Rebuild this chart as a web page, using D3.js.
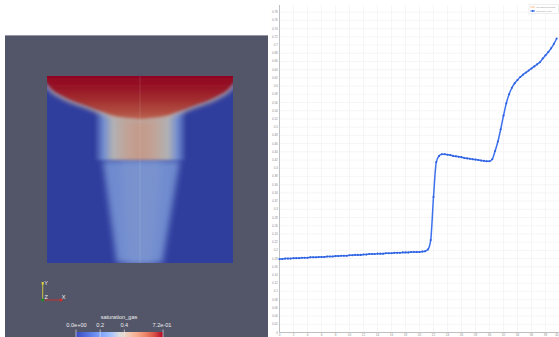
<!DOCTYPE html>
<html>
<head>
<meta charset="utf-8">
<script src="https://cdn.jsdelivr.net/npm/d3@7"></script>
<style>
  html, body { margin: 0; padding: 0; background: #fff; overflow: hidden; }
  svg { display: block; font-family: "Liberation Sans", Arial, sans-serif; }
</style>
</head>
<body>
<svg id="chart" width="559" height="337"></svg>
<script>
// ---- plot over line: saturation_gas along arc length ----
const arcLength = d3.range(0, 39.75, 0.4);
const saturationGas = [
  0.179, 0.179, 0.180, 0.180, 0.180, 0.181, 0.181, 0.181, 0.182, 0.182,
  0.182, 0.183, 0.183, 0.183, 0.184, 0.184, 0.184, 0.185, 0.185, 0.185,
  0.186, 0.186, 0.187, 0.187, 0.187, 0.188, 0.188, 0.189, 0.189, 0.189,
  0.190, 0.190, 0.191, 0.191, 0.191, 0.192, 0.192, 0.192, 0.193, 0.193,
  0.193, 0.194, 0.194, 0.194, 0.195, 0.195, 0.195, 0.196, 0.196, 0.196,
  0.196, 0.197, 0.198, 0.202, 0.225, 0.330, 0.415, 0.430, 0.434, 0.434,
  0.433, 0.432, 0.430, 0.429, 0.428, 0.427, 0.425, 0.424, 0.423, 0.422,
  0.421, 0.420, 0.419, 0.418, 0.417, 0.417, 0.422, 0.442, 0.465, 0.495,
  0.528, 0.558, 0.580, 0.596, 0.607, 0.615, 0.622, 0.628, 0.633, 0.638,
  0.643, 0.648, 0.653, 0.658, 0.667, 0.675, 0.683, 0.692, 0.703, 0.716
];
const xTicks = [0,2,4,6,8,10,12,14,16,18,20,22,24,26,28,30,32,34,36,38,40];
const yTicks = d3.range(0, 40).map(i => +(i * 0.02).toFixed(2));
const seriesNames = ["vtkValidPointMask", "saturation_gas"];

// ---- render view: saturation field (domain units 0..1) ----
const bowlFront = [
  [0, 0.04], [0.03, 0.075], [0.07, 0.10], [0.14, 0.134], [0.215, 0.16],
  [0.285, 0.187], [0.365, 0.214], [0.445, 0.225], [0.5, 0.23], [0.555, 0.225],
  [0.635, 0.214], [0.715, 0.187], [0.785, 0.16], [0.86, 0.134], [0.93, 0.10],
  [0.97, 0.075], [1, 0.04]
];
const bowlProfile = [[0, 0.72], [0.06, 0.70], [0.13, 0.67], [0.2, 0.62], [0.235, 0.58]];
const upperColumn = { x0: 0.255, x1: 0.75, d0: 0.16, d1: 0.45 };
const upperProfile = [[0, 0.0], [0.1, 0.24], [0.2, 0.36], [0.35, 0.43], [0.5, 0.46],
  [0.65, 0.43], [0.8, 0.36], [0.9, 0.24], [1, 0.0]];
const lowerColumn = [[0.30, 0.45], [0.715, 0.45], [0.62, 1], [0.375, 1]];
const lowerCore = [[0.40, 0.46], [0.62, 0.46], [0.57, 1], [0.43, 1]];
const lowerSat = 0.235, coreSat = 0.26;

const satMax = 0.72;
const barTicks = [0, 0.2, 0.4, 0.72];
const barLabels = ["0.0e+00", "0.2", "0.4", "7.2e-01"];
const coolWarm = ["#3b4cc0", "#4f69d9", "#6788ee", "#84a7fc", "#a3c2fe", "#dcdddd",
  "#f2cbb7", "#f7ac8e", "#ee8468", "#d65244", "#b40426"];

const svg = d3.select("#chart");
const defs = svg.append("defs");
const cmap = d3.scaleLinear().domain(d3.range(coolWarm.length).map(i => i / (coolWarm.length - 1) * satMax))
  .range(coolWarm).interpolate(d3.interpolateRgb).clamp(true);
const lit = v => { const c = d3.rgb(cmap(v)); return d3.rgb(c.r * 0.8, c.g * 0.8, c.b * 0.82).formatHex(); };

// view background
svg.append("rect").attr("x", 5).attr("y", 35).attr("width", 263).attr("height", 302).attr("fill", "#535669");
svg.append("line").attr("x1", 5).attr("x2", 268).attr("y1", 35.5).attr("y2", 35.5).attr("stroke", "#9497a8");

const fx = d3.scaleLinear([0, 1], [47, 233]);
const fy = d3.scaleLinear([0, 1], [76, 263]);

defs.append("clipPath").attr("id", "dom").append("rect")
  .attr("x", fx(0)).attr("y", fy(0)).attr("width", fx(1) - fx(0)).attr("height", fy(1) - fy(0));
const blur = (id, s) => defs.append("filter").attr("id", id)
  .attr("x", "-30%").attr("y", "-30%").attr("width", "160%").attr("height", "160%")
  .append("feGaussianBlur").attr("stdDeviation", s);
blur("b1", 1.4); blur("b2", 2.6); blur("b3", 3); blur("b4", 4);

const field = svg.append("g").attr("clip-path", "url(#dom)");
field.append("rect").attr("x", fx(0)).attr("y", fy(0)).attr("width", fx(1) - fx(0))
  .attr("height", fy(1) - fy(0)).attr("fill", lit(0));

const poly = d3.line().x(d => fx(d[0])).y(d => fy(d[1]));
field.append("path").attr("d", poly(lowerColumn) + "Z").attr("fill", lit(lowerSat)).attr("filter", "url(#b3)");
field.append("path").attr("d", poly(lowerCore) + "Z").attr("fill", lit(coreSat)).attr("filter", "url(#b4)");

const ug = defs.append("linearGradient").attr("id", "upper");
ug.selectAll("stop").data(upperProfile).join("stop")
  .attr("offset", d => d[0]).attr("stop-color", d => lit(d[1]));
field.append("rect").attr("x", fx(upperColumn.x0)).attr("y", fy(upperColumn.d0))
  .attr("width", fx(upperColumn.x1) - fx(upperColumn.x0)).attr("height", fy(upperColumn.d1) - fy(upperColumn.d0))
  .attr("fill", "url(#upper)").attr("filter", "url(#b1)");

const bg = defs.append("linearGradient").attr("id", "bowl").attr("gradientUnits", "userSpaceOnUse")
  .attr("x1", 0).attr("x2", 0).attr("y1", fy(0)).attr("y2", fy(0.235));
bg.selectAll("stop").data(bowlProfile).join("stop")
  .attr("offset", d => d[0] / 0.235).attr("stop-color", d => lit(d[1]));
const front = d3.line().x(d => fx(d[0])).y(d => fy(d[1])).curve(d3.curveCatmullRom);
field.append("path").attr("d", front(bowlFront)).attr("fill", "none")
  .attr("stroke", lit(0.4)).attr("stroke-width", 5).attr("filter", "url(#b2)");
field.append("path").attr("d", "M" + fx(-0.05) + "," + fy(-0.05) + "L" + fx(0) + "," + fy(bowlFront[0][1]) +
    front(bowlFront).replace(/^M/, "L") + "L" + fx(1.05) + "," + fy(-0.05) + "Z")
  .attr("fill", "url(#bowl)").attr("filter", "url(#b1)");
field.append("line").attr("x1", fx(0.5)).attr("x2", fx(0.5)).attr("y1", fy(0)).attr("y2", fy(1))
  .attr("stroke", "#e8e8f0").attr("stroke-opacity", 0.2).attr("stroke-width", 0.7);

// orientation triad
const tri = svg.append("g").attr("font-size", 5.5).attr("fill", "#f0f0f0");
tri.append("line").attr("x1", 42.7).attr("x2", 42.7).attr("y1", 300).attr("y2", 283).attr("stroke", "#d8cf3a").attr("stroke-width", 0.9);
tri.append("rect").attr("x", 41.7).attr("y", 282).attr("width", 2).attr("height", 2.5).attr("fill", "#e2d838");
tri.append("line").attr("x1", 42.7).attr("x2", 60.5).attr("y1", 300).attr("y2", 300).attr("stroke", "#c8302a").attr("stroke-width", 0.9);
tri.append("circle").attr("cx", 61).attr("cy", 300).attr("r", 1.5).attr("fill", "#d82a22");
tri.append("circle").attr("cx", 42.7).attr("cy", 300).attr("r", 1.6).attr("fill", "#1f8a2a");
tri.append("text").attr("x", 44.2).attr("y", 284.5).text("Y");
tri.append("text").attr("x", 44.5).attr("y", 299).text("Z");
tri.append("text").attr("x", 61.8).attr("y", 299).text("X");

// scalar bar
const bx = d3.scaleLinear([0, satMax], [76, 163]);
const barG = defs.append("linearGradient").attr("id", "bar").attr("gradientUnits", "userSpaceOnUse")
  .attr("x1", bx(0)).attr("x2", bx(satMax)).attr("y1", 0).attr("y2", 0);
barG.selectAll("stop").data(coolWarm).join("stop")
  .attr("offset", (d, i) => i / (coolWarm.length - 1)).attr("stop-color", d => d);
svg.append("rect").attr("x", bx(0)).attr("y", 332).attr("width", bx(satMax) - bx(0)).attr("height", 6).attr("fill", "url(#bar)");
svg.append("g").selectAll("line").data(barTicks).join("line")
  .attr("x1", d => bx(d)).attr("x2", d => bx(d)).attr("y1", 329.5).attr("y2", 337)
  .attr("stroke", "#f0f0f0").attr("stroke-width", 0.6);
svg.append("g").attr("font-size", 5.6).attr("fill", "#ececec").attr("text-anchor", "middle")
  .selectAll("text").data(barTicks).join("text")
  .attr("x", (d, i) => i === 0 ? bx(d) + 0.5 : i === barTicks.length - 1 ? bx(d) - 1 : bx(d))
  .attr("y", 326.5).text((d, i) => barLabels[i]);
svg.append("text").attr("x", 119).attr("y", 318.5).attr("font-size", 5.6).attr("fill", "#ececec")
  .attr("text-anchor", "middle").text("saturation_gas");

// ---- line chart ----
const x = d3.scaleLinear([0, 40], [279.5, 559.5]);
const y = d3.scaleLinear([0, 0.7975], [332.5, 5]);

const grid = svg.append("g").attr("stroke", "#ececec").attr("stroke-width", 0.5);
grid.selectAll(".gx").data(xTicks).join("line").attr("class", "gx")
  .attr("x1", d => x(d)).attr("x2", d => x(d)).attr("y1", y(0)).attr("y2", 5);
grid.selectAll(".gy").data(yTicks).join("line").attr("class", "gy")
  .attr("x1", x(0)).attr("x2", 559).attr("y1", d => y(d)).attr("y2", d => y(d));

svg.append("line").attr("x1", x(0)).attr("x2", x(0)).attr("y1", 5).attr("y2", y(0)).attr("stroke", "#9a9a9a").attr("stroke-width", 0.6);
svg.append("line").attr("x1", x(0)).attr("x2", 559).attr("y1", y(0)).attr("y2", y(0)).attr("stroke", "#9a9a9a").attr("stroke-width", 0.6);

svg.append("g").attr("font-size", 3).attr("fill", "#8c8c8c").attr("text-anchor", "end")
  .selectAll("text").data(yTicks).join("text")
  .attr("x", 277.8).attr("y", d => y(d) + 1).text(d => String(d));
svg.append("g").attr("font-size", 3).attr("fill", "#8c8c8c")
  .selectAll("text").data(xTicks).join("text")
  .attr("text-anchor", (d, i) => i === xTicks.length - 1 ? "end" : "middle")
  .attr("x", (d, i) => i === xTicks.length - 1 ? 558.5 : x(d)).attr("y", 336.2).text(d => String(d));

const pts = arcLength.map((a, i) => [a, saturationGas[i]]);
svg.append("path").datum(pts)
  .attr("d", d3.line().x(d => x(d[0])).y(d => y(d[1])).curve(d3.curveMonotoneX))
  .attr("fill", "none").attr("stroke", "#3d72ee").attr("stroke-width", 1.5);
svg.append("g").attr("fill", "#2f62e0").selectAll("circle").data(pts).join("circle")
  .attr("cx", d => x(d[0])).attr("cy", d => y(d[1])).attr("r", 1.05);

// legend
const lg = svg.append("g");
lg.append("rect").attr("x", 529).attr("y", 4.5).attr("width", 29.5).attr("height", 9)
  .attr("fill", "#fff").attr("stroke", "#d6d6d6").attr("stroke-width", 0.4);
lg.append("line").attr("x1", 530.5).attr("x2", 535).attr("y1", 7).attr("y2", 7).attr("stroke", "#f4b982").attr("stroke-width", 0.9);
lg.append("line").attr("x1", 530.5).attr("x2", 535).attr("y1", 11).attr("y2", 11).attr("stroke", "#3d72ee").attr("stroke-width", 1.1);
lg.append("circle").attr("cx", 532.7).attr("cy", 11).attr("r", 0.9).attr("fill", "#2f62e0");
lg.selectAll("text").data(seriesNames).join("text")
  .attr("x", 536).attr("y", (d, i) => 8 + i * 4).attr("font-size", 2.4).attr("fill", "#999")
  .text(d => d);
</script>
</body>
</html>
